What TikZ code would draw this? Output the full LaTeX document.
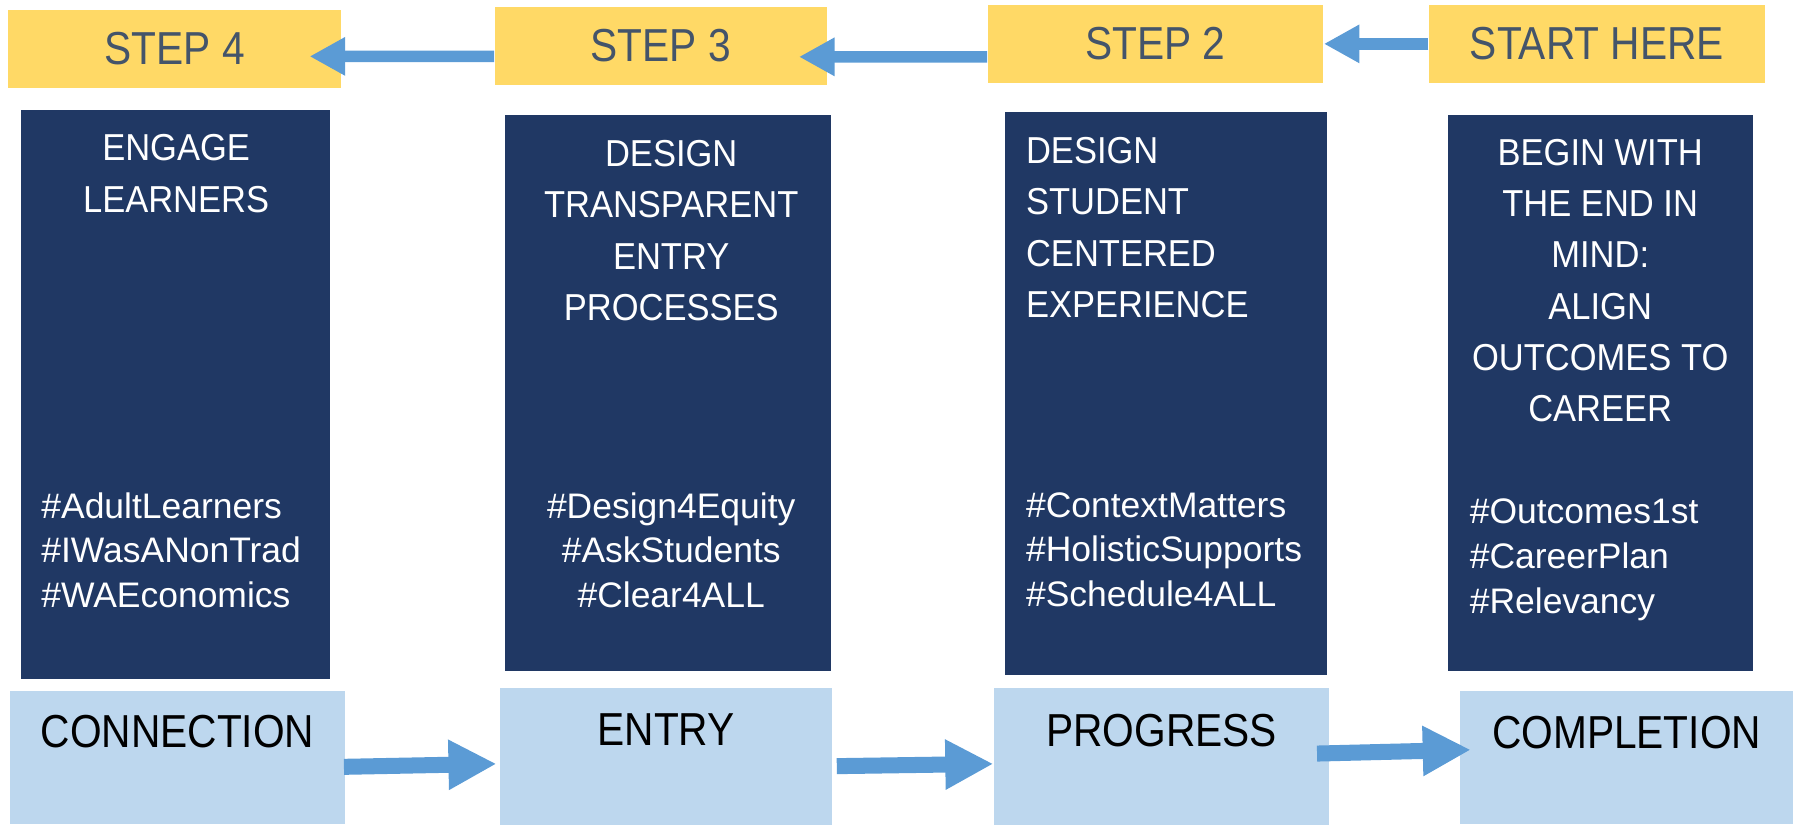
\documentclass[tikz,border=0pt]{standalone}
\usepackage{fontspec}
\usepackage{xcolor}
\usepackage{tikz}
\usetikzlibrary{arrows.meta}
\setmainfont{Liberation Sans}
\newfontfamily\narrowsf[FakeStretch=0.88]{Liberation Sans}
\newfontfamily\titlesf[FakeStretch=0.92]{Liberation Sans}
\definecolor{stepyellow}{HTML}{FFD966}
\definecolor{stepink}{HTML}{44546A}
\definecolor{goalnavy}{HTML}{203864}
\definecolor{stageblue}{HTML}{BDD7EE}
\definecolor{arrowblue}{HTML}{5B9BD5}
\tikzset{
  stepbox/.style={fill=stepyellow, text=stepink, inner sep=0pt, font=\narrowsf\fontsize{11.5pt}{13pt}\selectfont},
  goalbox/.style={fill=goalnavy, inner sep=0pt},
  goaltitle/.style={text=white, inner sep=0pt, font=\titlesf\fontsize{9.33pt}{12.75pt}\selectfont},
  goaltags/.style={text=white, inner sep=0pt, font=\fontsize{8.82pt}{11.1pt}\selectfont},
  stagebox/.style={fill=stageblue, inner sep=0pt},
  stagetext/.style={text=black, inner sep=0pt, font=\narrowsf\fontsize{11.5pt}{13pt}\selectfont},
  toparrow/.style={color=arrowblue, line width=0.1cm, -{Triangle[length=0.31cm,width=0.315cm]}},
  flowarrow/.style={color=arrowblue, line width=0.14cm, -{Triangle[length=0.42cm,width=0.41cm]}}
}

\begin{document}
\begin{tikzpicture}[x=0.01cm, y=-0.01cm]
\useasboundingbox (0,0) rectangle (1568,721);

% steps
\node[stepbox, minimum width=2.905cm, minimum height=0.68cm] (step4) at (152.75,42.7) {STEP 4};
\node[stepbox, minimum width=2.90cm, minimum height=0.685cm] (step3) at (578,40) {STEP 3};
\node[stepbox, minimum width=2.93cm, minimum height=0.68cm] (step2) at (1010.5,38.35) {STEP 2};
\node[stepbox, minimum width=2.93cm, minimum height=0.68cm] (start) at (1396.5,38.35) {START HERE};

% goals
\node[goalbox, minimum width=2.70cm, minimum height=4.976cm] (engage) at (153.5,344.8) {};
\node[goalbox, minimum width=2.85cm, minimum height=4.86cm] (entrydesign) at (584.5,344) {};
\node[goalbox, minimum width=2.815cm, minimum height=4.923cm] (experience) at (1019.5,343.85) {};
\node[goalbox, minimum width=2.665cm, minimum height=4.86cm] (endinmind) at (1399.75,344) {};

\node[goaltitle, align=center, anchor=north] (engagetitle) at (154,117) {ENGAGE\\LEARNERS};
\node[goaltags, align=left, anchor=north west] (engagetags) at (35.5,430) {\#AdultLearners\\\#IWasANonTrad\\\#WAEconomics};
\node[goaltitle, align=center, anchor=north] (entrytitle) at (587,122) {DESIGN\\TRANSPARENT\\ENTRY\\PROCESSES};
\node[goaltags, align=center, anchor=north] (entrytags) at (587,430) {\#Design4Equity\\\#AskStudents\\\#Clear4ALL};
\node[goaltitle, align=left, anchor=north west] (experiencetitle) at (896.6,119.5) {DESIGN\\STUDENT\\CENTERED\\EXPERIENCE};
\node[goaltags, align=left, anchor=north west] (experiencetags) at (896.6,430) {\#ContextMatters\\\#HolisticSupports\\\#Schedule4ALL};
\node[goaltitle, align=center, anchor=north] (endtitle) at (1399.4,121) {BEGIN WITH\\THE END IN\\MIND:\\ALIGN\\OUTCOMES TO\\CAREER};
\node[goaltags, align=left, anchor=north west] (endtags) at (1284.7,435.8) {\#Outcomes1st\\\#CareerPlan\\\#Relevancy};

% stages
\node[stagebox, minimum width=2.935cm, minimum height=1.17cm] (connection) at (155.25,662.5) {};
\node[stagebox, minimum width=2.90cm, minimum height=1.19cm] (entry) at (582.5,661.5) {};
\node[stagebox, minimum width=2.925cm, minimum height=1.19cm] (progress) at (1015.75,661.5) {};
\node[stagebox, minimum width=2.91cm, minimum height=1.17cm] (completion) at (1422.5,662.5) {};

\node[stagetext] (connectionlabel) at (connection.center |- 0,639.7) {CONNECTION};
\node[stagetext] (entrylabel) at (entry.center |- 0,638) {ENTRY};
\node[stagetext] (progresslabel) at (progress.center |- 0,638.6) {PROGRESS};
\node[stagetext] (completionlabel) at (completion.center |- 0,640.8) {COMPLETION};

% arrows
\draw[toparrow] ([yshift=-0.093cm]step3.west) -- ([xshift=-0.28cm,yshift=-0.066cm]step4.east);
\draw[toparrow] ([yshift=-0.1135cm]step2.west) -- ([xshift=-0.25cm,yshift=-0.097cm]step3.east);
\draw[toparrow] (start.west) -- (step2.east);

\draw[flowarrow] ([xshift=-0.02cm,yshift=-0.081cm]connection.east) -- ([xshift=-0.025cm,yshift=-0.065cm]entry.west);
\draw[flowarrow] ([xshift=0.035cm,yshift=-0.085cm]entry.east) -- ([yshift=-0.065cm]progress.west);
\draw[flowarrow] ([xshift=-0.11cm,yshift=0.025cm]progress.east) -- ([xshift=0.10cm,yshift=0.068cm]completion.west);
\end{tikzpicture}
\end{document}
